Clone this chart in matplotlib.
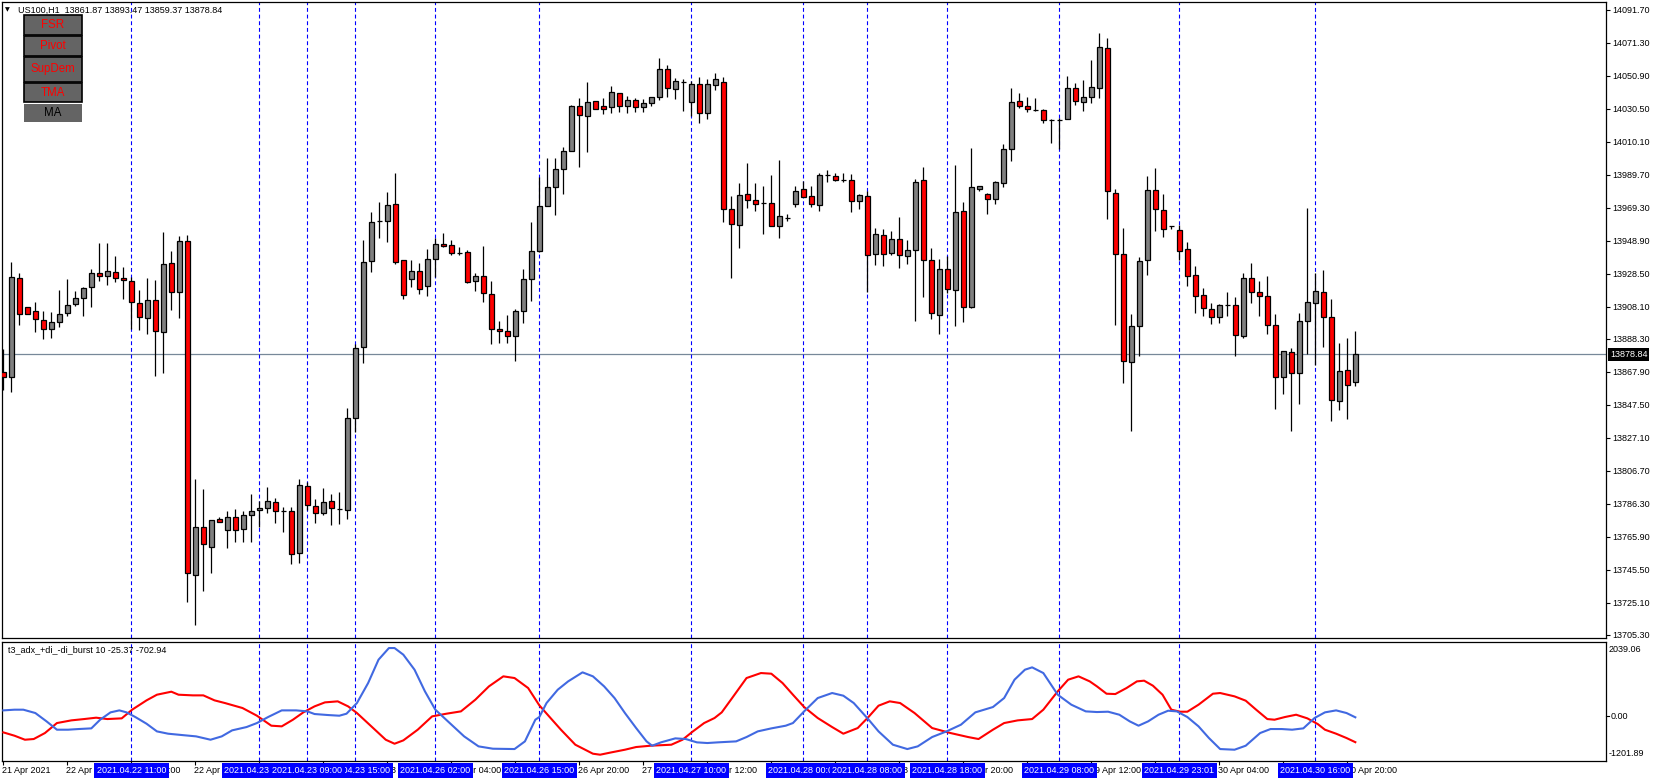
import numpy as np
import matplotlib.pyplot as plt
import matplotlib.transforms as mtrans
from matplotlib.patches import Rectangle

plt.rcParams['font.family'] = ['Liberation Sans', 'DejaVu Sans']

W, H, DPI = 1657, 782, 100

symbol = "US100,H1"

# --- H1 candles, bar 0 = 21 Apr 19:00 ... bar 169 = 30 Apr 21:00 ---
opens = [
    13868.1, 13864.6, 13926.2, 13908.3, 13905.4, 13899.8, 13894.3, 13898.6, 13904.2, 13909.7,
    13913.4, 13920.2, 13928.9, 13927.0, 13929.5, 13925.8, 13923.9, 13910.3, 13901.1, 13912.2,
    13892.4, 13935.1, 13917.1, 13948.7, 13742.2, 13771.8, 13759.5, 13776.8, 13770.0, 13778.0,
    13770.6, 13779.3, 13782.4, 13783.6, 13787.3, 13781.7, 13781.7, 13755.8, 13797.2, 13784.8,
    13780.5, 13787.9, 13783.0, 13782.4, 13839.2, 13883.1, 13936.3, 13961.2, 13961.0, 13971.6,
    13936.9, 13925.2, 13930.1, 13920.9, 13937.5, 13946.8, 13946.2, 13941.6, 13941.9, 13923.9,
    13927.0, 13915.9, 13894.3, 13893.0, 13889.9, 13905.4, 13925.2, 13942.5, 13970.3, 13982.0,
    13993.2, 14004.3, 14032.1, 14025.9, 14035.2, 14032.1, 14031.5, 14040.2, 14032.1, 14035.8,
    14031.5, 14034.0, 14037.7, 14055.0, 14042.6, 14047.4, 14035.0, 14046.0, 14028.0, 14045.0,
    14047.0, 13968.5, 13958.6, 13977.7, 13974.0, 13972.2, 13972.2, 13957.9, 13962.9, 13971.5,
    13980.8, 13976.5, 13970.9, 13989.5, 13988.9, 13986.4, 13986.4, 13973.4, 13976.5, 13940.6,
    13952.4, 13941.2, 13949.9, 13939.4, 13943.1, 13986.4, 13937.1, 13902.9, 13931.3, 13918.4,
    13967.2, 13907.8, 13980.8, 13977.7, 13974.6, 13984.5, 14005.5, 14035.2, 14032.1, 14030.1,
    14029.6, 14023.7, 14023.9, 14024.1, 14043.3, 14034.6, 14037.7, 14043.3, 14068.0, 13978.3,
    13940.6, 13873.8, 13896.1, 13936.9, 13980.4, 13967.8, 13958.0, 13955.5, 13943.7, 13927.7,
    13915.3, 13906.6, 13901.7, 13909.1, 13909.1, 13889.9, 13925.8, 13917.1, 13914.7, 13896.7,
    13864.6, 13880.0, 13867.1, 13899.2, 13910.3, 13917.1, 13901.7, 13849.7, 13868.9, 13861.87,
]
highs = [
    13881.9, 13935.7, 13928.9, 13908.3, 13911.0, 13905.6, 13904.8, 13918.6, 13925.2, 13918.0,
    13920.2, 13931.4, 13947.7, 13947.7, 13939.6, 13932.6, 13926.4, 13918.6, 13925.8, 13924.6,
    13954.2, 13942.5, 13951.8, 13952.4, 13801.5, 13795.3, 13776.2, 13778.0, 13781.7, 13783.0,
    13781.9, 13792.5, 13787.9, 13796.8, 13789.8, 13784.2, 13784.4, 13801.5, 13799.9, 13789.2,
    13796.2, 13792.2, 13793.7, 13845.6, 13885.0, 13949.5, 13966.6, 13972.8, 13979.0, 13990.7,
    13936.9, 13936.9, 13935.1, 13943.7, 13950.9, 13953.6, 13949.3, 13944.9, 13943.3, 13928.9,
    13945.8, 13924.3, 13899.4, 13902.9, 13906.6, 13931.6, 13960.6, 13988.2, 14000.4, 14000.0,
    14007.0, 14032.7, 14037.1, 14047.0, 14035.2, 14037.1, 14044.5, 14040.2, 14038.3, 14037.1,
    14036.5, 14037.7, 14061.8, 14057.7, 14049.4, 14048.8, 14047.8, 14050.0, 14049.0, 14053.0,
    14050.0, 13976.7, 13984.7, 13997.1, 13984.7, 13982.9, 13989.7, 13998.7, 13965.4, 13982.7,
    13985.8, 13982.7, 13990.7, 13992.8, 13990.7, 13990.7, 13990.3, 13977.7, 13979.6, 13956.7,
    13956.1, 13954.9, 13963.5, 13949.3, 13987.0, 13994.6, 13944.5, 13937.7, 13939.6, 13995.9,
    13972.8, 14006.4, 13982.7, 13978.3, 13985.8, 14008.6, 14043.3, 14040.2, 14037.7, 14037.1,
    14030.3, 14024.1, 14024.7, 14050.7, 14046.3, 14048.2, 14060.6, 14077.3, 14074.2, 13980.8,
    13956.7, 13903.5, 13938.8, 13988.8, 13994.0, 13978.0, 13958.0, 13958.6, 13948.1, 13933.2,
    13919.6, 13910.3, 13909.7, 13917.1, 13914.0, 13928.9, 13935.1, 13923.9, 13927.0, 13903.5,
    13880.7, 13882.5, 13904.2, 13969.1, 13928.9, 13930.7, 13912.8, 13885.6, 13888.7, 13893.47,
]
lows = [
    13856.8, 13855.7, 13897.0, 13903.5, 13892.8, 13888.5, 13889.1, 13895.9, 13902.7, 13908.9,
    13902.7, 13908.3, 13924.4, 13921.9, 13923.7, 13913.2, 13894.3, 13893.9, 13891.6, 13865.6,
    13867.5, 13906.2, 13901.5, 13725.9, 13711.5, 13732.7, 13743.4, 13774.9, 13759.3, 13762.6,
    13763.0, 13762.6, 13771.8, 13780.9, 13774.3, 13768.8, 13749.0, 13749.6, 13782.8, 13774.7,
    13779.3, 13773.5, 13773.7, 13776.8, 13831.0, 13873.2, 13929.9, 13950.9, 13948.5, 13934.5,
    13913.2, 13920.6, 13916.3, 13915.1, 13926.8, 13945.0, 13940.4, 13940.2, 13923.1, 13918.2,
    13911.4, 13885.0, 13885.6, 13885.6, 13874.9, 13898.4, 13912.0, 13941.9, 13970.3, 13965.1,
    13977.7, 14004.3, 13994.4, 14004.1, 14030.3, 14027.2, 14027.8, 14028.4, 14027.8, 14028.8,
    14028.4, 14032.1, 14035.8, 14037.7, 14036.5, 14029.0, 14026.4, 14022.0, 14024.0, 14042.0,
    13960.8, 13925.8, 13944.3, 13969.5, 13967.6, 13953.0, 13957.9, 13950.5, 13961.0, 13969.7,
    13975.9, 13969.7, 13967.2, 13985.1, 13985.8, 13985.1, 13966.6, 13968.5, 13917.1, 13933.8,
    13933.2, 13940.0, 13932.0, 13934.4, 13899.2, 13914.0, 13900.8, 13891.2, 13916.5, 13896.1,
    13898.6, 13907.2, 13980.0, 13965.3, 13971.5, 13982.0, 13998.1, 14030.9, 14028.4, 14029.0,
    14021.6, 14009.7, 14005.5, 14024.1, 14032.7, 14029.0, 14034.0, 14037.1, 13962.3, 13896.7,
    13860.9, 13831.2, 13877.6, 13927.6, 13955.3, 13951.1, 13956.1, 13936.9, 13920.8, 13904.6,
    13902.7, 13897.4, 13898.0, 13902.7, 13877.6, 13888.7, 13910.3, 13902.7, 13891.6, 13844.8,
    13854.1, 13831.2, 13847.9, 13878.8, 13872.0, 13883.1, 13837.4, 13844.2, 13838.6, 13859.37,
]
closes = [
    13864.6, 13926.8, 13903.5, 13903.5, 13900.5, 13894.3, 13898.6, 13904.0, 13909.5, 13913.4,
    13919.6, 13928.9, 13927.0, 13930.1, 13925.8, 13924.6, 13911.0, 13901.7, 13912.2, 13893.0,
    13934.5, 13917.1, 13948.7, 13743.4, 13771.8, 13761.3, 13776.2, 13774.9, 13778.0, 13770.0,
    13779.3, 13781.7, 13783.6, 13787.9, 13781.7, 13781.7, 13755.1, 13797.8, 13785.4, 13780.5,
    13787.3, 13783.6, 13783.0, 13839.2, 13882.5, 13935.7, 13960.4, 13961.2, 13970.9, 13935.7,
    13915.3, 13930.1, 13919.0, 13937.5, 13946.8, 13945.6, 13941.3, 13941.6, 13923.7, 13927.0,
    13916.5, 13894.3, 13893.0, 13889.9, 13905.4, 13925.2, 13942.5, 13970.3, 13982.0, 13993.2,
    14004.3, 14032.1, 14026.6, 14034.6, 14030.3, 14030.3, 14040.8, 14032.1, 14035.8, 14031.5,
    14034.0, 14037.7, 14055.0, 14043.3, 14047.6, 14047.4, 14046.0, 14028.0, 14046.0, 14049.0,
    13968.5, 13959.2, 13977.1, 13974.0, 13971.5, 13972.2, 13957.9, 13964.1, 13962.9, 13979.6,
    13975.9, 13971.5, 13989.5, 13989.5, 13986.4, 13986.4, 13973.4, 13977.1, 13940.0, 13953.0,
    13940.6, 13949.9, 13940.0, 13943.1, 13985.1, 13937.1, 13904.1, 13931.3, 13919.0, 13966.6,
    13907.8, 13982.0, 13982.7, 13974.6, 13985.1, 14005.5, 14034.6, 14032.1, 14030.3, 14030.1,
    14023.5, 14023.7, 14023.9, 14043.3, 14035.2, 14037.7, 14043.9, 14068.6, 13979.6, 13940.6,
    13874.5, 13896.1, 13936.3, 13980.2, 13968.5, 13956.1, 13958.0, 13942.5, 13927.0, 13914.7,
    13907.2, 13901.7, 13909.1, 13909.1, 13890.6, 13925.8, 13917.1, 13914.7, 13896.7, 13864.6,
    13880.7, 13867.1, 13899.2, 13911.0, 13917.8, 13901.7, 13850.4, 13868.3, 13859.6, 13878.84,
]

# right price scale
price_ticks = [14091.70, 14071.30, 14050.90, 14030.50, 14010.10, 13989.70, 13969.30,
               13948.90, 13928.50, 13908.10, 13888.30, 13867.90, 13847.50, 13827.10,
               13806.70, 13786.30, 13765.90, 13745.50, 13725.10, 13705.30]

# --- indicator t3_adx_+di_-di_burst (bar position, value) ---
blue_bar = [0, 1.4, 2.5, 4.0, 5.4, 6.7, 8.1, 9.4, 11.0, 12.1, 13.4, 14.5, 15.4, 16.5, 17.9,
            19.2, 20.6, 22.3, 24.1, 25.9, 27.3, 28.6, 30.4, 31.7, 33.1, 34.8, 36.6, 38.0,
            38.9, 40.6, 42.0, 42.9, 44.2, 45.6, 46.9, 48.2, 48.9, 50.0, 51.4, 52.7, 54.0,
            55.8, 57.6, 59.4, 61.2, 63.9, 65.2, 66.5, 67.0, 67.9, 69.3, 70.6, 72.4, 73.7,
            75.1, 76.4, 77.7, 79.1, 80.4, 81.1, 82.2, 84.0, 85.3, 86.7, 88.0, 89.3, 91.6,
            92.9, 94.3, 96.0, 97.8, 98.7, 100.1, 101.8, 103.6, 105.0, 106.3, 108.1, 109.4,
            111.2, 113.0, 114.3, 116.1, 117.9, 119.7, 121.5, 123.7, 125.1, 126.4, 127.7,
            128.6, 130.0, 131.8, 133.5, 135.3, 136.7, 138.1, 139.5, 140.8, 141.9, 143.1,
            144.4, 145.6, 146.7, 148.0, 149.4, 150.7, 152.1, 153.9, 155.3, 157.1, 158.4,
            159.8, 161.1, 162.5, 163.9, 165.2, 166.6, 167.9, 169]
blue_val = [163, 182, 182, 91, -136, -363, -363, -345, -327, -91, 109, 163, 109, -18, -200,
            -409, -472, -508, -545, -636, -545, -381, -291, -182, -18, 163, 163, 136,
            64, 36, 18, 73, 363, 908, 1544, 1861, 1861, 1680, 1271, 681, 182,
            -182, -545, -817, -881, -890, -681, -91, -18, 363, 726, 953, 1199, 1090,
            817, 499, 91, -318, -681, -799, -708, -599, -617, -708, -726, -708, -681,
            -563, -409, -327, -254, -182, 136, 499, 636, 563, 363, -73, -409,
            -772, -890, -817, -563, -409, -227, 109, 254, 499, 999, 1271,
            1335, 1180, 590, 318, 136, 118, 127, 45, -136, -254, -136,
            45, 154, 136, -18, -272, -590, -890, -908, -799, -454, -345,
            -345, -363, -327, -45, 109, 163, 91, -25.37]
red_bar = [0, 1.4, 2.7, 3.8, 5.2, 6.7, 8.5, 10.1, 11.6, 13.0, 14.8, 16.1, 17.9, 19.2, 21.0,
           21.9, 23.7, 25.0, 26.4, 27.7, 29.9, 31.7, 33.5, 34.8, 36.2, 37.5, 38.9, 40.2,
           41.8, 43.1, 44.2, 46.0, 47.8, 48.9, 50.0, 51.8, 53.6, 55.4, 57.2, 59.0, 60.7,
           62.5, 63.9, 65.6, 67.0, 68.4, 69.7, 71.5, 73.7, 74.6, 76.0, 77.7, 79.1, 80.9,
           83.5, 84.9, 86.2, 87.6, 88.9, 89.8, 91.1, 92.9, 94.7, 96.0, 97.4, 98.7, 100.1,
           101.8, 103.6, 105.0, 106.8, 108.1, 109.4, 110.8, 112.1, 113.9, 116.1, 118.4,
           120.6, 121.9, 123.7, 125.1, 126.8, 128.6, 130.0, 131.8, 133.1, 134.4, 135.8,
           136.7, 137.9, 139.0, 140.4, 141.7, 142.6, 143.7, 144.9, 146.0, 147.1, 148.0,
           149.4, 151.2, 152.1, 153.9, 155.3, 156.6, 158.0, 158.9, 160.2, 161.6, 163.0,
           164.3, 165.2, 166.6, 167.9, 169]
red_val = [-436, -527, -636, -617, -454, -182, -109, -73, -36, -73, -54, 182, 436, 590, 672,
           590, 572, 572, 436, 363, 227, 18, -254, -272, -91, 109, 272, 381,
           409, 272, 91, -272, -636, -745, -654, -363, 0, 73, 136, 454, 817,
           1090, 1044, 772, 300, -45, -363, -772, -1017, -1044, -981, -908, -835, -799,
           -772, -636, -409, -182, -45, 109, 499, 1044, 1180, 1162, 908, 590, 254,
           -45, -291, -472, -318, -27, 291, 409, 363, 91, -318, -454,
           -563, -617, -363, -182, -109, -73, 182, 681, 999, 1090, 953,
           817, 617, 608, 772, 953, 972, 835, 590, 182, 127, 127,
           318, 617, 636, 545, 427, 182, -73, -91, -18, 45, -54,
           -209, -363, -472, -590, -702.94]
ind_max, ind_min = 2039.06, -1201.89

# vertical line objects (bar index, label), listed in drawing order
vline_bars = [16, 32, 44, 38, 54, 67, 86, 100, 108, 118, 132, 147, 164]
vline_text = ["2021.04.22 11:00", "2021.04.23 03:00", "2021.04.23 15:00", "2021.04.23 09:00",
              "2021.04.26 02:00", "2021.04.26 15:00", "2021.04.27 10:00", "2021.04.28 00:00",
              "2021.04.28 08:00", "2021.04.28 18:00", "2021.04.29 08:00", "2021.04.29 23:01",
              "2021.04.30 16:00"]

# time scale
time_bars = list(range(0, 170, 8))
time_text = ["21 Apr 2021", "22 Apr 03:00", "22 Apr 11:00", "22 Apr 19:00", "23 Apr 03:00",
             "23 Apr 11:00", "23 Apr 19:00", "26 Apr 04:00", "26 Apr 12:00", "26 Apr 20:00",
             "27 Apr 04:00", "27 Apr 12:00", "27 Apr 20:00", "28 Apr 04:00", "28 Apr 12:00",
             "28 Apr 20:00", "29 Apr 04:00", "29 Apr 12:00", "29 Apr 20:00", "30 Apr 04:00",
             "30 Apr 12:00", "30 Apr 20:00"]

buttons = ["FSR", "Pivot", "SupDem", "TMA", "MA"]
button_colors = ["#ff0000", "#ff0000", "#ff0000", "#ff0000", "#000000"]

FS = 6.5


def fx(px):
    return px / W


def fy(py):
    return 1 - py / H


fig = plt.figure(figsize=(W / DPI, H / DPI), dpi=DPI)
fig.patch.set_facecolor("white")

L, R = 2, 1606
ax = fig.add_axes([fx(L), fy(638), (R - L) / W, (638 - 2) / H])
ind = fig.add_axes([fx(L), fy(760.5), (R - L) / W, (760.5 - 641.5) / H])

xmin, xmax = (L - 3.33) / 8, (R - 3.33) / 8
for a in (ax, ind):
    a.set_xlim(xmin, xmax)
    for s in a.spines.values():
        s.set_linewidth(0.9)
        s.set_color("black")
    a.set_facecolor("white")

# --- candles ---
o, h, l, c = map(np.array, (opens, highs, lows, closes))
x = np.arange(len(o))
ax.axhline(closes[-1], color="#778899", lw=0.9, zorder=1)
for b in vline_bars:
    for a in (ax, ind):
        a.axvline(b, color="#0000ff", lw=0.8, dashes=(3.5, 2.5), zorder=1.5)

ax.vlines(x, l, h, color="black", lw=0.9, zorder=2)
body_lo = np.minimum(o, c)
body_h = np.abs(c - o)
cols = np.where(c > o + 0.3, "#808080", np.where(c < o - 0.3, "#ff0000", "black"))
ax.bar(x, body_h, bottom=body_lo, width=0.58, color=cols, edgecolor="black",
       linewidth=0.9, zorder=3)
ax.set_ylim(13703.4, 14096.6)

ax.yaxis.tick_right()
ax.set_yticks(price_ticks)
ax.set_yticklabels([f"{v:.2f}" for v in price_ticks])
ax.tick_params(axis="y", labelsize=FS, length=3, width=0.8, pad=1.5, direction="out")
ax.set_xticks([])

# current price tag
tr = mtrans.blended_transform_factory(ax.transAxes, ax.transData)
ax.text(1 + 4 / (R - L), closes[-1], f"{closes[-1]:.2f}", transform=tr, ha="left",
        va="center", fontsize=FS, color="white", clip_on=False, zorder=10,
        bbox=dict(boxstyle="square,pad=0.2", fc="black", ec="none"))

# header
fig.text(fx(5), fy(10), "\u25bc", fontsize=4.5, ha="left", va="center",
         family="DejaVu Sans")
fig.text(fx(18), fy(10),
         f"{symbol}  {opens[-1]:.2f} {highs[-1]:.2f} {lows[-1]:.2f} {closes[-1]:.2f}",
         fontsize=FS, ha="left", va="center")

# buttons
tops = [15.5, 36, 57, 83, 104]
hts = [19.5, 19.5, 24.5, 19, 18]
for name, col, t, hh in zip(buttons, button_colors, tops, hts):
    edge = "none" if name == "MA" else "black"
    fig.add_artist(Rectangle((fx(23.5), fy(t + hh)), 58.5 / W, hh / H,
                             transform=fig.transFigure, fc="#646464", ec=edge, lw=1.2))
    fig.text(fx(23.5 + 58.5 / 2), fy(t + hh / 2), name, fontsize=8.3, color=col,
             ha="center", va="center")

# --- indicator window ---
ind.plot(red_bar, red_val, color="#ff0000", lw=1.5, zorder=3)
ind.plot(blue_bar, blue_val, color="#4169e1", lw=1.5, zorder=3)
ind.set_ylim(ind_min, ind_max)
ind.set_yticks([])
ind.text(0.004, 0.93, f"t3_adx_+di_-di_burst 10 {blue_val[-1]:.2f} {red_val[-1]:.2f}",
         transform=ind.transAxes, fontsize=FS, ha="left", va="center")
tri = mtrans.blended_transform_factory(ind.transAxes, ind.transData)
for v, yy in [(ind_max, 650), (0.0, None), (ind_min, 753)]:
    if yy is None:
        ind.text(1 + 5 / (R - L), v, f"{v:.2f}", transform=tri, fontsize=FS,
                 ha="left", va="center", clip_on=False)
    else:
        fig.text(fx(1609), fy(yy), f"{v:.2f}", fontsize=FS, ha="left", va="center")
ind.plot([1, 1 + 3 / (R - L)], [0, 0], transform=tri, color="black", lw=0.8,
         clip_on=False)

# time axis
ind.set_xticks(time_bars)
ind.set_xticklabels([])
ind.tick_params(axis="x", length=3, width=0.8, direction="out")
tb = mtrans.blended_transform_factory(ind.transData, fig.transFigure)
for b, t in zip(time_bars, time_text):
    ind.text(b - 0.2, fy(770.5), t, transform=tb, fontsize=FS, ha="left",
             va="center", clip_on=False, zorder=5)
for k, (b, t) in enumerate(zip(vline_bars, vline_text)):
    ind.text(b, fy(770.5), t, transform=tb, fontsize=FS, ha="center", va="center",
             color="white", clip_on=False, zorder=20 + k,
             bbox=dict(boxstyle="square,pad=0.3", fc="#0000ff", ec="none"))

fig.savefig("out.png", dpi=DPI)
